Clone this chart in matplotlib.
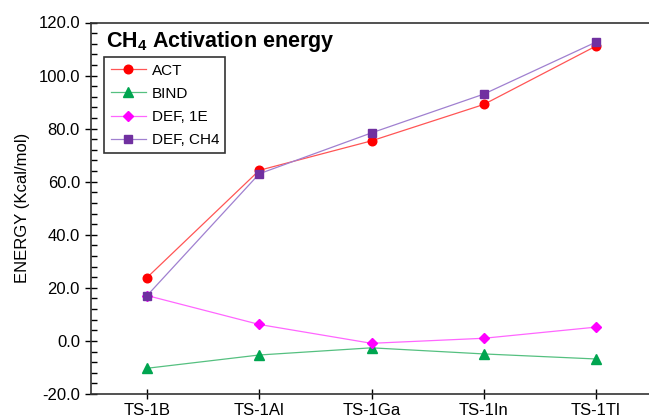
import matplotlib
matplotlib.use("Agg")
import matplotlib.pyplot as plt
from matplotlib.ticker import MultipleLocator, FormatStrFormatter

plt.rcParams['font.family'] = ['Liberation Sans', 'DejaVu Sans']

categories = ["TS-1B", "TS-1Al", "TS-1Ga", "TS-1In", "TS-1Tl"]
act = [23.9, 64.3, 75.4, 89.1, 111.1]
bind = [-10.3, -5.3, -2.6, -4.9, -6.8]
def_1e = [17.1, 6.2, -0.9, 1.0, 5.2]
def_ch4 = [17.1, 63.0, 78.4, 93.0, 112.6]

series = [
    ("ACT", act, "#ff0000", "#ff5555", "o", 6.2),
    ("BIND", bind, "#00a550", "#55c080", "^", 7.2),
    ("DEF, 1E", def_1e, "#ff00ff", "#ff66ff", "D", 5.5),
    ("DEF, CH4", def_ch4, "#7030a0", "#a080d0", "s", 5.8),
]

fig = plt.figure(figsize=(6.49, 4.20), dpi=100)
ax = fig.add_axes([91/649, 1-394/420, (652-91)/649, (394-22.5)/420])

x = list(range(1, len(categories) + 1))
for name, vals, mcol, lcol, mk, ms in series:
    ax.plot(x, vals, color=lcol, lw=0.9, marker=mk, markersize=ms,
            markerfacecolor=mcol, markeredgecolor=mcol, label=name)

ax.set_xlim(0.5, 5.5)
ax.set_ylim(-20, 120)
ax.set_xticks(x)
ax.set_xticklabels(categories, fontsize=12)
ax.yaxis.set_major_locator(MultipleLocator(20))
ax.yaxis.set_minor_locator(MultipleLocator(4))
ax.yaxis.set_major_formatter(FormatStrFormatter('%.1f'))
ax.tick_params(axis='y', which='major', direction='inout', length=8, width=1, labelsize=12, pad=4)
ax.tick_params(axis='y', which='minor', direction='in', length=4, width=1)
ax.tick_params(axis='x', which='major', direction='inout', length=7, width=1, labelsize=12, pad=3)
for s in ax.spines.values():
    s.set_linewidth(1.2)
    s.set_color('#333333')
ax.spines['right'].set_visible(False)

ax.set_ylabel("ENERGY (Kcal/mol)", fontsize=12, labelpad=6)

ax.text(0.027, 0.948, r"CH$_\mathregular{4}$ Activation energy", transform=ax.transAxes,
        fontsize=15.5, fontweight='bold', va='center', ha='left')

leg = ax.legend(loc='upper left', bbox_to_anchor=(0.024, 0.906), fancybox=False,
                frameon=True, edgecolor='black', fontsize=11, handlelength=2.3,
                borderpad=0.4, labelspacing=0.6, handletextpad=0.4, borderaxespad=0)
leg.get_frame().set_linewidth(1.2)

fig.savefig("out.png", dpi=100)
